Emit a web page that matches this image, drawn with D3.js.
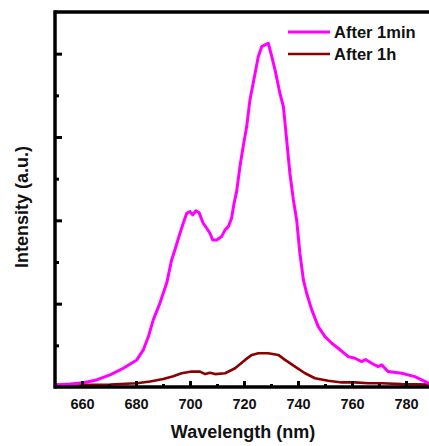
<!DOCTYPE html>
<html>
<head>
<meta charset="utf-8">
<script src="https://cdn.jsdelivr.net/npm/d3@7"></script>
<style>
  body { margin: 0; background: #fff; }
  svg { display: block; }
  text { font-family: "Liberation Sans", Arial, sans-serif; font-weight: bold; fill: #111; }
</style>
</head>
<body>
<div id="container"></div>
<script>
// series (wavelength in nm, intensity in a.u.)
var minWavelength = [650, 655.6, 660.5, 665.4, 670.4, 675.3, 680.3, 682.7, 684.6, 686.4, 688.9, 691.4, 693.2, 694.4, 696.3, 697.5, 698.8, 700, 701, 702.2, 703.4, 704.9, 706.2, 707.4, 708.4, 709.9, 711.7, 713, 714.2, 715.4, 716.3, 717.3, 718.5, 719.7, 721, 722.2, 723.4, 724.7, 725.3, 726.6, 727.8, 729, 730.3, 731.5, 733.3, 734.6, 735.8, 737, 738.3, 739.5, 740.7, 742, 743.2, 745.1, 747.5, 750, 752.5, 754.9, 758.6, 761.1, 763.6, 765, 767.3, 769.7, 771, 773.4, 778.4, 783.3, 788.3, 790];
var minIntensity = [5, 7, 10, 17, 29, 45, 65, 89, 121, 161, 202, 250, 305, 329, 369, 393, 417, 421, 413, 423, 418, 393, 381, 369, 353, 353, 361, 377, 385, 405, 440, 470, 529, 577, 625, 689, 729, 773, 793, 817, 821, 825, 793, 761, 705, 673, 593, 513, 449, 401, 321, 257, 225, 185, 145, 121, 105, 93, 73, 69, 61, 66, 57, 49, 53, 37, 33, 25, 9, 6];

var hourWavelength = [650, 660.5, 670.4, 680.3, 685.2, 690.1, 693.8, 696.9, 700.6, 703.7, 705.6, 707.4, 709.3, 713, 716.7, 720.4, 722.9, 725.3, 729, 732.7, 735.2, 738.9, 742.6, 746.3, 751.2, 756.2, 761.1, 766, 771, 778.4, 788.3, 790];
var hourIntensity = [5, 5, 6, 9, 13, 19, 26, 33, 37, 37, 31, 34, 31, 33, 45, 65, 77, 81, 81, 77, 65, 49, 33, 21, 15, 11, 11, 9, 9, 7, 6, 6];

var xMajorTicks = [660, 680, 700, 720, 740, 760, 780];
var xMinorTicks = [670, 690, 710, 730, 750, 770];
var yMajorTicks = [200, 400, 600, 800];
var yMinorTicks = [100, 300, 500, 700];

var seriesNames = ["After 1min", "After 1h"];
var seriesColors = ["#ff00ff", "#8b0000"];

var width = 429;
var height = 446;
var plotLeft = 55, plotTop = 12, plotBottom = 387, plotRight = 433;

var svg = d3.select("#container").append("svg")
  .attr("width", width)
  .attr("height", height);

var x = d3.scaleLinear().domain([650, 790]).range([plotLeft, plotRight]);
var y = d3.scaleLinear().domain([0, 900]).range([plotBottom, plotTop]);

var toPoints = function(xs, ys) {
  return xs.map(function(d, i) { return [d, ys[i]]; });
};

var line = d3.line()
  .x(function(d) { return x(d[0]); })
  .y(function(d) { return y(d[1]); });

/* curves */
svg.append("path")
  .datum(toPoints(hourWavelength, hourIntensity))
  .attr("d", line)
  .attr("fill", "none")
  .attr("stroke", seriesColors[1])
  .attr("stroke-width", 2.6)
  .attr("stroke-linejoin", "round");

svg.append("path")
  .datum(toPoints(minWavelength, minIntensity))
  .attr("d", line)
  .attr("fill", "none")
  .attr("stroke", seriesColors[0])
  .attr("stroke-width", 3)
  .attr("stroke-linejoin", "round");

/* axes: ticks point inward */
var xMajor = d3.axisBottom(x).tickValues(xMajorTicks).tickSize(-6).tickPadding(12).tickFormat(d3.format("d"));
var xMinor = d3.axisBottom(x).tickValues(xMinorTicks).tickSize(-3).tickFormat("");
var yMajor = d3.axisLeft(y).tickValues(yMajorTicks).tickSize(-7).tickFormat("");
var yMinor = d3.axisLeft(y).tickValues(yMinorTicks).tickSize(-4).tickFormat("");

[xMajor, xMinor].forEach(function(ax) {
  svg.append("g")
    .attr("transform", "translate(0," + plotBottom + ")")
    .call(ax)
    .call(function(g) { g.select(".domain").remove(); })
    .selectAll("line")
    .attr("stroke", "#000")
    .attr("stroke-width", 3);
});

svg.selectAll("g.tick text")
  .attr("font-size", 14.5)
  .attr("fill", "#111")
  .style("font-family", "'Liberation Sans', Arial, sans-serif")
  .style("font-weight", "bold");

[yMajor, yMinor].forEach(function(ax) {
  svg.append("g")
    .attr("transform", "translate(" + plotLeft + ",0)")
    .call(ax)
    .call(function(g) { g.select(".domain").remove(); })
    .selectAll("line")
    .attr("stroke", "#000")
    .attr("stroke-width", 3);
});

// frame lines
svg.append("line")
  .attr("x1", plotLeft).attr("x2", width)
  .attr("y1", plotBottom).attr("y2", plotBottom)
  .attr("stroke", "#000").attr("stroke-width", 3.5);
svg.append("line")
  .attr("x1", plotLeft).attr("x2", width)
  .attr("y1", plotTop).attr("y2", plotTop)
  .attr("stroke", "#000").attr("stroke-width", 3.5);
svg.append("line")
  .attr("x1", plotLeft).attr("x2", plotLeft)
  .attr("y1", plotTop - 1.75).attr("y2", plotBottom + 1.75)
  .attr("stroke", "#000").attr("stroke-width", 3.5);

/* titles */
svg.append("text")
  .attr("x", 243)
  .attr("y", 438)
  .attr("text-anchor", "middle")
  .attr("font-size", 18)
  .text("Wavelength (nm)");

svg.append("text")
  .attr("transform", "translate(28,207) rotate(-90)")
  .attr("text-anchor", "middle")
  .attr("font-size", 18)
  .text("Intensity (a.u.)");

/* legend */
var legend = svg.append("g").attr("transform", "translate(288,32)");
seriesNames.forEach(function(name, i) {
  legend.append("line")
    .attr("x1", 0).attr("x2", 42)
    .attr("y1", i * 22).attr("y2", i * 22)
    .attr("stroke", seriesColors[i])
    .attr("stroke-width", i == 0 ? 3 : 2.6);
  legend.append("text")
    .attr("x", 46)
    .attr("y", i * 22 + 6)
    .attr("font-size", 16.5)
    .text(name);
});
</script>
</body>
</html>
